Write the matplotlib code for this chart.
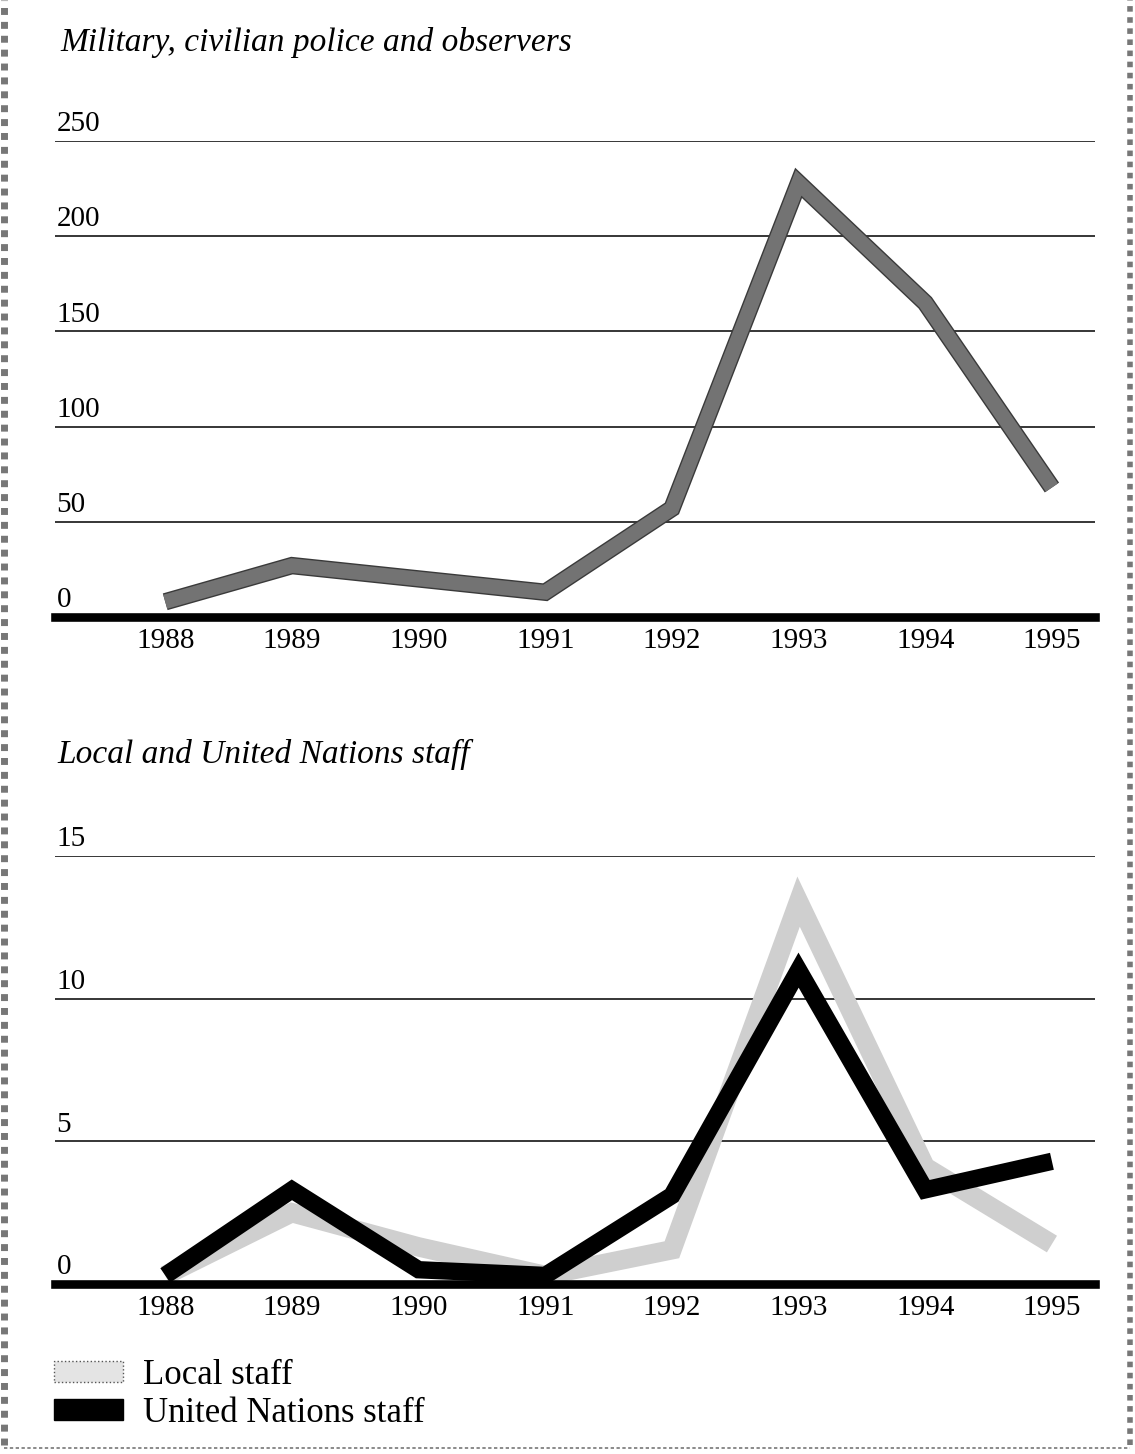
import matplotlib
matplotlib.use("Agg")
import matplotlib.pyplot as plt
import matplotlib.patheffects as pe
from matplotlib.patches import Patch
from matplotlib.lines import Line2D
import matplotlib.transforms as mtransforms

plt.rcParams["font.family"] = ["Liberation Serif", "DejaVu Serif"]

YEARS = [1988, 1989, 1990, 1991, 1992, 1993, 1994, 1995]
MILITARY = [8, 27, 20, 13, 57, 228, 165, 68]
LOCAL_STAFF = [0.3, 2.5, 1.3, 0.3, 1.2, 13.4, 4.1, 1.4]
UN_STAFF = [0.3, 3.3, 0.5, 0.3, 3.1, 11.0, 3.3, 4.3]

TOP_TITLE = "Military, civilian police and observers"
BOTTOM_TITLE = "Local and United Nations staff"
TOP_TICKS = [0, 50, 100, 150, 200, 250]
BOTTOM_TICKS = [0, 5, 10, 15]

W, H = 1135, 1454
fig = plt.figure(figsize=(W / 100, H / 100), dpi=100)


def frac(x0, y0, x1, y1):
    # pixel box -> figure fraction [left, bottom, width, height]
    return [x0 / W, 1 - y1 / H, (x1 - x0) / W, (y1 - y0) / H]


def style_axes(ax, ticks, ymax):
    ax.set_xlim(1987.13, 1995.34)
    ax.set_ylim(0, ymax)
    for s in ax.spines.values():
        s.set_visible(False)
    ax.set_yticks([])
    ax.set_xticks(YEARS)
    ax.set_xticklabels([str(y) for y in YEARS], fontsize=21)
    ax.tick_params(axis="x", length=0, pad=8)
    trans = mtransforms.blended_transform_factory(ax.transAxes, ax.transData)
    for t in ticks:
        if t == 0:
            ax.axhline(0, color="black", lw=6.2, zorder=5, clip_on=False)
        else:
            ax.axhline(t, color="black", lw=1.1, zorder=1)
        ax.annotate(str(t), xy=(0, t), xycoords=trans, xytext=(1, 7),
                    textcoords="offset points", fontsize=21, va="baseline", ha="left")


# top panel
ax1 = fig.add_axes(frac(55, 141, 1095, 617))
style_axes(ax1, TOP_TICKS, 250)
ax1.plot(YEARS, MILITARY, color="#737373", lw=10.5, solid_joinstyle="miter",
         solid_capstyle="butt", zorder=3, clip_on=False,
         path_effects=[pe.Stroke(linewidth=12.5, foreground="#3a3a3a"), pe.Normal()])
fig.text(60 / W, 1 - 51 / H, TOP_TITLE, fontsize=24, style="italic", va="baseline")

# bottom panel
ax2 = fig.add_axes(frac(55, 856, 1095, 1284))
style_axes(ax2, BOTTOM_TICKS, 15)
ax2.plot(YEARS, LOCAL_STAFF, color="#cfcfcf", lw=14, solid_joinstyle="miter",
         solid_capstyle="butt", zorder=3, clip_on=False)
ax2.plot(YEARS, UN_STAFF, color="black", lw=12.5, solid_joinstyle="miter",
         solid_capstyle="butt", zorder=4, clip_on=False)
fig.text(57 / W, 1 - 763 / H, BOTTOM_TITLE, fontsize=24, style="italic", va="baseline")

handles = [Patch(facecolor="#e4e4e4", edgecolor="#555555", linestyle=":", lw=1),
           Patch(facecolor="black", edgecolor="black")]
fig.legend(handles, ["Local staff", "United Nations staff"], loc="upper left",
           bbox_to_anchor=(54 / W, 1 - 1359 / H), frameon=False, fontsize=25,
           handlelength=2.0, handleheight=0.55, handletextpad=0.55, labelspacing=0.15,
           borderpad=0, borderaxespad=0)

# dotted frame around the page
fig.add_artist(Line2D([4 / W, 4 / W], [0.006, 1], transform=fig.transFigure,
                      color="#777777", lw=5, ls=(0, (1, 1))))
fig.add_artist(Line2D([1130 / W, 1130 / W], [0.006, 1], transform=fig.transFigure,
                      color="#777777", lw=4, ls=(0, (1, 1))))
fig.add_artist(Line2D([4 / W, 1130 / W], [1 - 1448 / H, 1 - 1448 / H],
                      transform=fig.transFigure, color="#777777", lw=1.2, ls=(0, (2, 1.5))))

fig.savefig("out.png", dpi=100)
